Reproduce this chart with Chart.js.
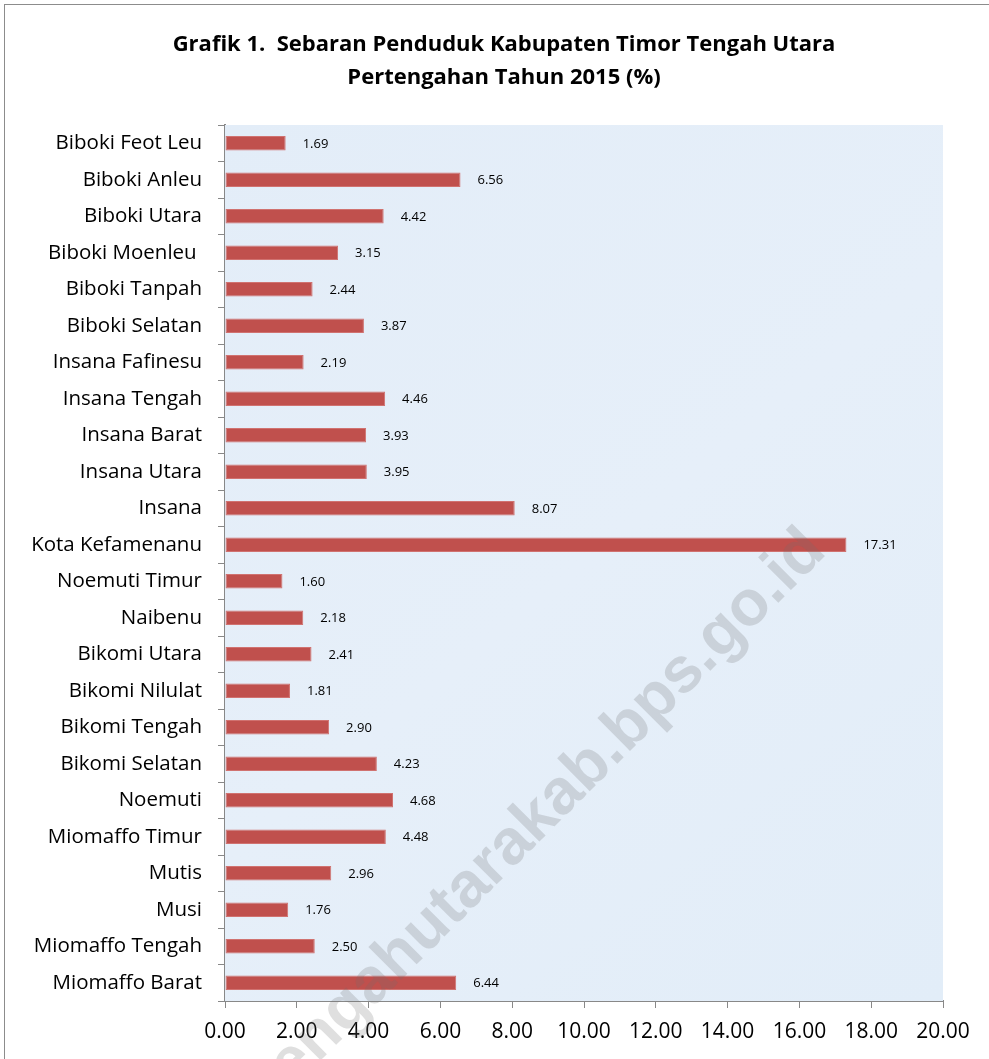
<!DOCTYPE html>
<html>
<head>
<meta charset="utf-8">
<script src="https://cdn.jsdelivr.net/npm/chart.js@4"></script>
<style>
  html, body { margin: 0; padding: 0; background: #fff; overflow: hidden; }
  #frame { position: absolute; left: 4px; top: 4px; width: 1100px; height: 1200px; border: 1px solid #8c8c8c; }
  #wrap { position: absolute; left: 0; top: 0; width: 989px; height: 1059px; }
</style>
</head>
<body>
<div id="frame"></div>
<div id="wrap"><canvas id="sebaranChart" width="989" height="1059"></canvas></div>
<script>
// Data kecamatan (urutan dari atas ke bawah)
const kecamatan = [
  'Biboki Feot Leu', 'Biboki Anleu', 'Biboki Utara', 'Biboki Moenleu ', 'Biboki Tanpah',
  'Biboki Selatan', 'Insana Fafinesu', 'Insana Tengah', 'Insana Barat', 'Insana Utara',
  'Insana', 'Kota Kefamenanu', 'Noemuti Timur', 'Naibenu', 'Bikomi Utara',
  'Bikomi Nilulat', 'Bikomi Tengah', 'Bikomi Selatan', 'Noemuti', 'Miomaffo Timur',
  'Mutis', 'Musi', 'Miomaffo Tengah', 'Miomaffo Barat'
];
const persen = [
  1.69, 6.56, 4.42, 3.15, 2.44,
  3.87, 2.19, 4.46, 3.93, 3.95,
  8.07, 17.31, 1.60, 2.18, 2.41,
  1.81, 2.90, 4.23, 4.68, 4.48,
  2.96, 1.76, 2.50, 6.44
];
const xTicks = [0, 2, 4, 6, 8, 10, 12, 14, 16, 18, 20];
const judul = ['Grafik 1.  Sebaran Penduduk Kabupaten Timor Tengah Utara', 'Pertengahan Tahun 2015 (%)'];

const FONT = '"Open Sans", Lato, sans-serif';

// latar area plot, judul, watermark, label nilai
const extras = {
  id: 'extras',
  beforeDatasetsDraw(chart) {
    const { ctx, chartArea: a } = chart;
    ctx.save();
    const g = ctx.createLinearGradient(a.left, a.top, a.right, a.bottom);
    g.addColorStop(0, '#e3edf8');
    g.addColorStop(0.5, '#e6eff9');
    g.addColorStop(1, '#e2edf8');
    ctx.fillStyle = g;
    ctx.fillRect(a.left, a.top, a.right - a.left, a.bottom - a.top);
    ctx.restore();
  },
  afterDatasetsDraw(chart) {
    const { ctx } = chart;
    const meta = chart.getDatasetMeta(0);
    ctx.save();
    ctx.font = '13px ' + FONT;
    ctx.fillStyle = '#000';
    ctx.textBaseline = 'middle';
    meta.data.forEach((bar, i) => {
      ctx.fillText(persen[i].toFixed(2), bar.x + 17, bar.y + 1);
    });
    ctx.restore();
  },
  afterDraw(chart) {
    const { ctx } = chart;
    ctx.save();
    ctx.font = 'bold 22px ' + FONT;
    ctx.fillStyle = '#000';
    ctx.textAlign = 'center';
    ctx.textBaseline = 'middle';
    ctx.fillText(judul[0], 504, 45);
    ctx.fillText(judul[1], 504, 78);
    ctx.restore();

    ctx.save();
    ctx.translate(828, 553);
    ctx.rotate(-45 * Math.PI / 180);
    ctx.font = 'bold 64px "Liberation Sans", Arial, sans-serif';
    ctx.fillStyle = 'rgba(110,110,110,0.22)';
    ctx.textAlign = 'right';
    ctx.textBaseline = 'alphabetic';
    ctx.fillText('timortengahutarakab.bps.go.id', 0, 0);
    ctx.restore();
  }
};

new Chart(document.getElementById('sebaranChart'), {
  type: 'bar',
  data: {
    labels: kecamatan,
    datasets: [{
      data: persen,
      backgroundColor: '#c0504d',
      borderColor: '#d07270',
      borderWidth: 1,
      borderSkipped: false,
      barPercentage: 0.4,
      categoryPercentage: 1.0
    }]
  },
  options: {
    indexAxis: 'y',
    responsive: false,
    animation: false,
    layout: { padding: { left: 0, right: 46, top: 125, bottom: 0 } },
    plugins: {
      legend: { display: false },
      tooltip: { enabled: false },
      title: { display: false }
    },
    scales: {
      x: {
        min: 0,
        max: 20,
        afterBuildTicks(scale) { scale.ticks = xTicks.map(v => ({ value: v })); },
        afterFit(scale) { scale.height = 58; },
        ticks: {
          font: { family: FONT, size: 21 },
          color: '#000',
          padding: 11,
          maxRotation: 0,
          callback: v => v.toFixed(2)
        },
        grid: { drawOnChartArea: false, tickLength: 7, color: '#888' },
        border: { color: '#888', width: 2 }
      },
      y: {
        afterFit(scale) { scale.width = 225; },
        ticks: {
          font: { family: FONT, size: 20.5 },
          color: '#000',
          padding: 16,
          autoSkip: false
        },
        grid: { drawOnChartArea: false, offset: true, tickLength: 7, color: '#888' },
        border: { color: '#888', width: 2 }
      }
    }
  },
  plugins: [extras]
});
</script>
</body>
</html>
